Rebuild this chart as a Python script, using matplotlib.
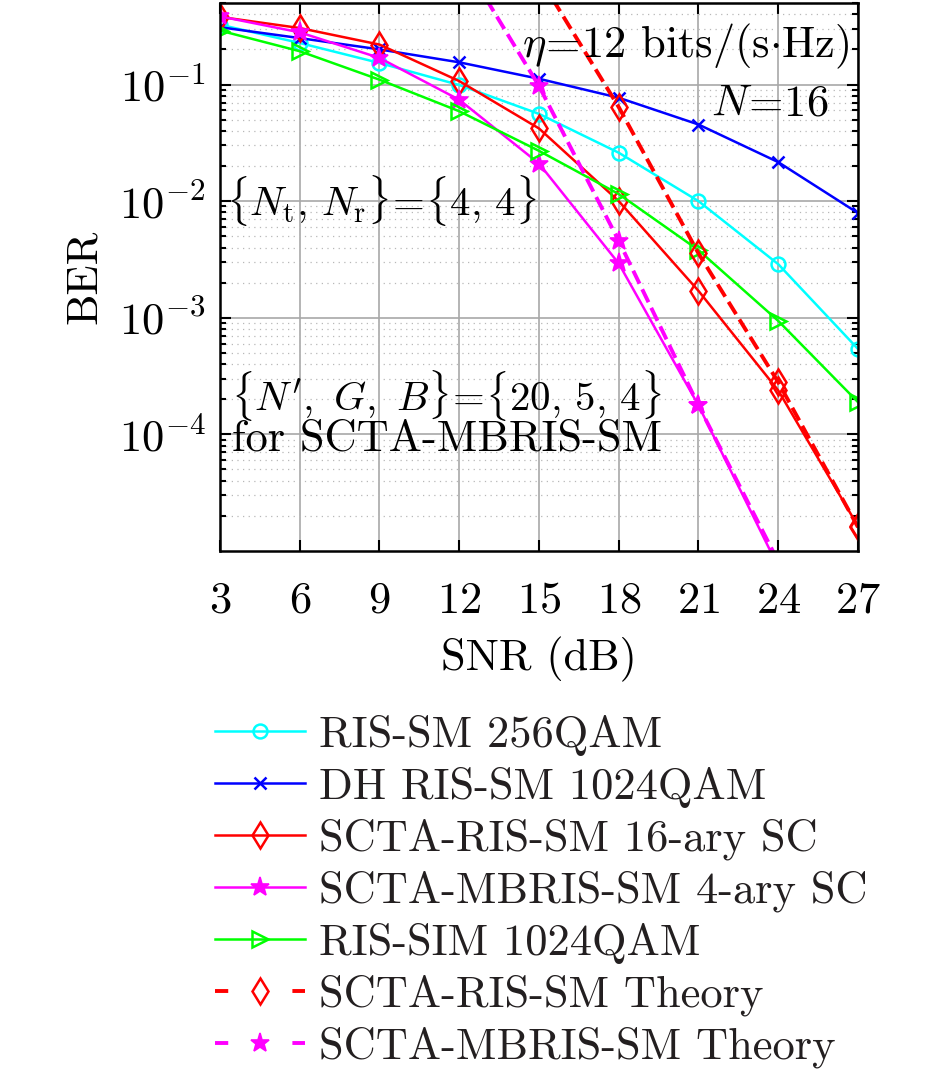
import matplotlib
matplotlib.use("Agg")
import matplotlib.pyplot as plt
from matplotlib.ticker import LogLocator, NullFormatter, NullLocator

plt.rcParams['font.family'] = 'serif'
plt.rcParams['font.serif'] = ['cmr10']
plt.rcParams['mathtext.fontset'] = 'cm'
plt.rcParams['axes.formatter.use_mathtext'] = True

# SNR grid (dB)
snr = [3, 6, 9, 12, 15, 18, 21, 24, 27]

# simulated BER curves
ris_sm_256 = [0.326, 0.227, 0.153, 0.099, 0.056, 0.026, 0.0100, 2.88e-3, 5.4e-4]
dh_ris_sm_1024 = [0.31, 0.25, 0.20, 0.155, 0.112, 0.077, 0.0454, 0.0216, 0.0079]
scta_ris_sm = [0.38, 0.305, 0.22, 0.107, 0.042, 0.0100, 1.7e-3, 2.38e-4, 1.63e-5]
scta_mbris_sm = [0.384, 0.28, 0.169, 0.074, 0.021, 2.92e-3, 1.77e-4, 7.3e-6]
ris_sim_1024 = [0.29, 0.193, 0.11, 0.059, 0.027, 0.0115, 3.8e-3, 9.4e-4, 1.89e-4]

# theoretical curves (only where they come into the plot)
snr_th_ris = [15, 18, 21, 24, 27]
scta_ris_sm_th = [0.84, 0.064, 3.56e-3, 2.8e-4, 1.6e-5]
snr_th_mbris = [12, 15, 18, 21, 24]
scta_mbris_sm_th = [1.3, 0.097, 4.57e-3, 1.77e-4, 8.1e-6]

labels = ["RIS-SM 256QAM", "DH RIS-SM 1024QAM", "SCTA-RIS-SM 16-ary SC",
          "SCTA-MBRIS-SM 4-ary SC", "RIS-SIM 1024QAM",
          "SCTA-RIS-SM Theory", "SCTA-MBRIS-SM Theory"]

fs = 32
fs_set = 29.5

fig = plt.figure(figsize=(9.45, 10.72), dpi=100)
ax = fig.add_axes([220/945, 1 - 551/1072, 638/945, 548/1072])

lw = 1.8
ms = 10
ax.plot(snr, ris_sm_256, color=(0, 1, 1), lw=lw, marker='o', ms=ms,
        mfc='none', mew=1.8, label=labels[0])
ax.plot(snr, dh_ris_sm_1024, color=(0, 0, 1), lw=lw, marker='x', ms=8,
        mew=1.8, label=labels[1])
ax.plot(snr, scta_ris_sm, color=(1, 0, 0), lw=lw, marker='d', ms=13,
        mfc='none', mew=1.8, label=labels[2])
ax.plot(snr[:len(scta_mbris_sm)], scta_mbris_sm, color=(1, 0, 1), lw=lw,
        marker='*', ms=14, mew=1.2, label=labels[3])
ax.plot(snr, ris_sim_1024, color=(0, 1, 0), lw=lw, marker='>', ms=11,
        mfc='none', mew=1.8, label=labels[4])
ax.plot(snr_th_ris, scta_ris_sm_th, color=(1, 0, 0), lw=2.8, ls='--',
        marker='d', ms=13, mfc='none', mew=1.8, label=labels[5])
ax.plot(snr_th_mbris, scta_mbris_sm_th, color=(1, 0, 1), lw=2.8, ls='--',
        marker='*', ms=14, mew=1.2, label=labels[6])

ax.set_yscale('log')
ax.set_xlim(3, 27)
ax.set_ylim(1e-5, 0.5)
ax.set_xticks(snr)
ax.xaxis.set_minor_locator(NullLocator())
ax.set_yticks([1e-4, 1e-3, 1e-2, 1e-1])
ax.yaxis.set_minor_locator(LogLocator(base=10, subs=range(2, 10), numticks=20))
ax.yaxis.set_minor_formatter(NullFormatter())

ax.grid(True, which='major', color='#a8a8a8', lw=1.2, ls='-')
ax.grid(True, which='minor', axis='y', color='#b8b8b8', lw=0.9, ls=(0, (1, 3.5)))
ax.set_axisbelow(True)

ax.tick_params(which='both', direction='in', top=True, right=True,
               labelsize=fs, width=1.5, colors='black')
ax.tick_params(which='major', length=8)
ax.tick_params(which='minor', length=4)
ax.tick_params(axis='x', pad=22)
ax.tick_params(axis='y', pad=10)
for sp in ax.spines.values():
    sp.set_linewidth(1.8)

ax.set_xlabel("SNR (dB)", fontsize=fs, labelpad=11)
ax.set_ylabel("BER", fontsize=fs, labelpad=10)

ax.text(0.987, 0.92, r"$\eta\!=\!12$ bits/(s$\cdot$Hz)", transform=ax.transAxes,
        fontsize=fs, ha='right', va='center')
ax.text(0.953, 0.814, r"$N\!=\!16$", transform=ax.transAxes,
        fontsize=fs, ha='right', va='center')
ax.text(0.009, 0.64, r"$\{N_{\rm t},\, N_{\rm r}\}\!=\!\{4,\, 4\}$",
        transform=ax.transAxes, fontsize=fs_set, ha='left', va='center')
ax.text(0.017, 0.283, r"$\{N',\ G,\ B\}\!=\!\{20,\, 5,\, 4\}$",
        transform=ax.transAxes, fontsize=fs_set, ha='left', va='center')
ax.text(0.019, 0.203, "for SCTA-MBRIS-SM", transform=ax.transAxes,
        fontsize=fs, ha='left', va='center')

handles, labs = ax.get_legend_handles_labels()
leg = fig.legend(handles, labs, loc='upper left',
                 bbox_to_anchor=(215/945, 1 - 715/1072), frameon=False,
                 fontsize=fs, handlelength=2.03, handletextpad=0.3,
                 labelspacing=0.24, borderpad=0, borderaxespad=0, numpoints=1)
for t in leg.get_texts():
    t.set_color('#231f20')
for ln in leg.get_lines()[5:]:
    ln.set_dashes([3.4, 16.5])

fig.savefig("out.png", dpi=100)
